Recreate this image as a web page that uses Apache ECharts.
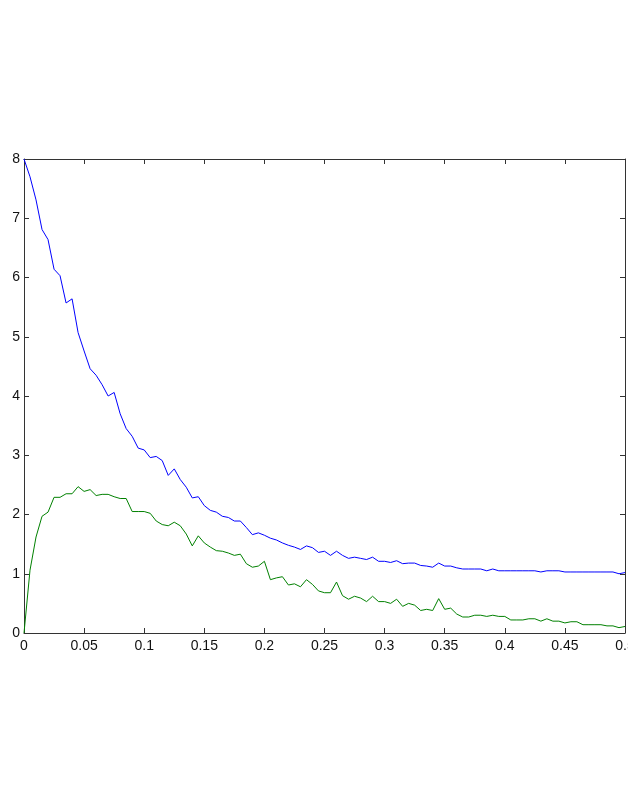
<!DOCTYPE html>
<html>
<head>
<meta charset="utf-8">
<script src="https://cdn.jsdelivr.net/npm/echarts@6/dist/echarts.min.js"></script>
<style>
html,body{margin:0;padding:0;background:#fff;}
#chart{width:628px;height:811px;}
</style>
</head>
<body>
<div id="chart"></div>
<script>
var xValues = [
  0,0.005,0.01,0.015,0.02,0.025,0.03,0.035,0.04,0.045,
  0.05,0.055,0.06,0.065,0.07,0.075,0.08,0.085,0.09,0.095,
  0.1,0.105,0.11,0.115,0.12,0.125,0.13,0.135,0.14,0.145,
  0.15,0.155,0.16,0.165,0.17,0.175,0.18,0.185,0.19,0.195,
  0.2,0.205,0.21,0.215,0.22,0.225,0.23,0.235,0.24,0.245,
  0.25,0.255,0.26,0.265,0.27,0.275,0.28,0.285,0.29,0.295,
  0.3,0.305,0.31,0.315,0.32,0.325,0.33,0.335,0.34,0.345,
  0.35,0.355,0.36,0.365,0.37,0.375,0.38,0.385,0.39,0.395,
  0.4,0.405,0.41,0.415,0.42,0.425,0.43,0.435,0.44,0.445,
  0.45,0.455,0.46,0.465,0.47,0.475,0.48,0.485,0.49,0.495,
  0.5
];
var blueValues = [
  8.00,7.70,7.31,6.81,6.64,6.14,6.03,5.57,5.64,5.07,
  4.76,4.46,4.35,4.19,4.00,4.06,3.70,3.45,3.32,3.12,
  3.09,2.96,2.98,2.91,2.66,2.77,2.59,2.46,2.28,2.30,
  2.15,2.07,2.04,1.97,1.95,1.89,1.89,1.78,1.66,1.69,
  1.65,1.60,1.57,1.52,1.48,1.45,1.41,1.47,1.44,1.36,
  1.38,1.31,1.38,1.31,1.26,1.28,1.26,1.24,1.28,1.21,
  1.21,1.19,1.22,1.17,1.18,1.18,1.14,1.13,1.11,1.18,
  1.13,1.13,1.10,1.08,1.08,1.08,1.08,1.05,1.08,1.05,
  1.05,1.05,1.05,1.05,1.05,1.05,1.03,1.05,1.05,1.05,
  1.03,1.03,1.03,1.03,1.03,1.03,1.03,1.03,1.03,1.00,
  1.02
];
var greenValues = [
  0,1.06,1.62,1.97,2.04,2.29,2.29,2.35,2.35,2.47,
  2.39,2.42,2.32,2.34,2.34,2.30,2.27,2.27,2.05,2.05,
  2.05,2.02,1.89,1.83,1.81,1.87,1.81,1.67,1.47,1.64,
  1.52,1.45,1.39,1.38,1.35,1.31,1.33,1.17,1.11,1.13,
  1.21,0.90,0.93,0.95,0.81,0.83,0.78,0.90,0.82,0.71,
  0.68,0.68,0.86,0.63,0.57,0.62,0.59,0.53,0.62,0.53,
  0.53,0.50,0.57,0.45,0.50,0.47,0.38,0.40,0.38,0.58,
  0.40,0.42,0.32,0.27,0.27,0.30,0.30,0.28,0.30,0.28,
  0.28,0.22,0.22,0.22,0.24,0.24,0.20,0.24,0.20,0.20,
  0.17,0.19,0.19,0.14,0.14,0.14,0.14,0.12,0.12,0.09,
  0.11
];
var xTicks = {min: 0, max: 0.5, interval: 0.05};
var yTicks = {min: 0, max: 8, interval: 1};

function pairs(xs, ys) {
  var out = [];
  for (var i = 0; i < xs.length; i++) out.push([xs[i], ys[i]]);
  return out;
}

var axisColor = '#333';
var fontFam = '"Liberation Sans", Arial, Helvetica, sans-serif';
function axisBase(show) {
  return {
    axisLine: {show: true, onZero: false, lineStyle: {color: axisColor, width: 1}},
    axisTick: {show: true, inside: true, length: 5, lineStyle: {color: axisColor, width: 1}},
    axisLabel: {show: show, color: '#111', fontSize: 14, fontFamily: fontFam},
    splitLine: {show: false}
  };
}

var chart = echarts.init(document.getElementById('chart'), null, {renderer: 'canvas'});
var xb = Object.assign({type: 'value', position: 'bottom'}, xTicks, axisBase(true));
xb.axisLabel.margin = 6;
var xt = Object.assign({type: 'value', position: 'top'}, xTicks, axisBase(false));
var yl = Object.assign({type: 'value', position: 'left'}, yTicks, axisBase(true));
yl.axisLabel.margin = 4;
var yr = Object.assign({type: 'value', position: 'right'}, yTicks, axisBase(false));

chart.setOption({
  animation: false,
  backgroundColor: '#fff',
  grid: {left: 24, right: 3, top: 159, bottom: 178, containLabel: false, outerBoundsMode: 'none'},
  xAxis: [xb, xt],
  yAxis: [yl, yr],
  series: [
    {type: 'line', xAxisIndex: 0, yAxisIndex: 0, data: pairs(xValues, blueValues),
     showSymbol: false, lineStyle: {color: '#0000ff', width: 1}, itemStyle: {color: '#0000ff'}},
    {type: 'line', xAxisIndex: 0, yAxisIndex: 0, data: pairs(xValues, greenValues),
     showSymbol: false, lineStyle: {color: '#008000', width: 1}, itemStyle: {color: '#008000'}}
  ]
});
</script>
</body>
</html>
